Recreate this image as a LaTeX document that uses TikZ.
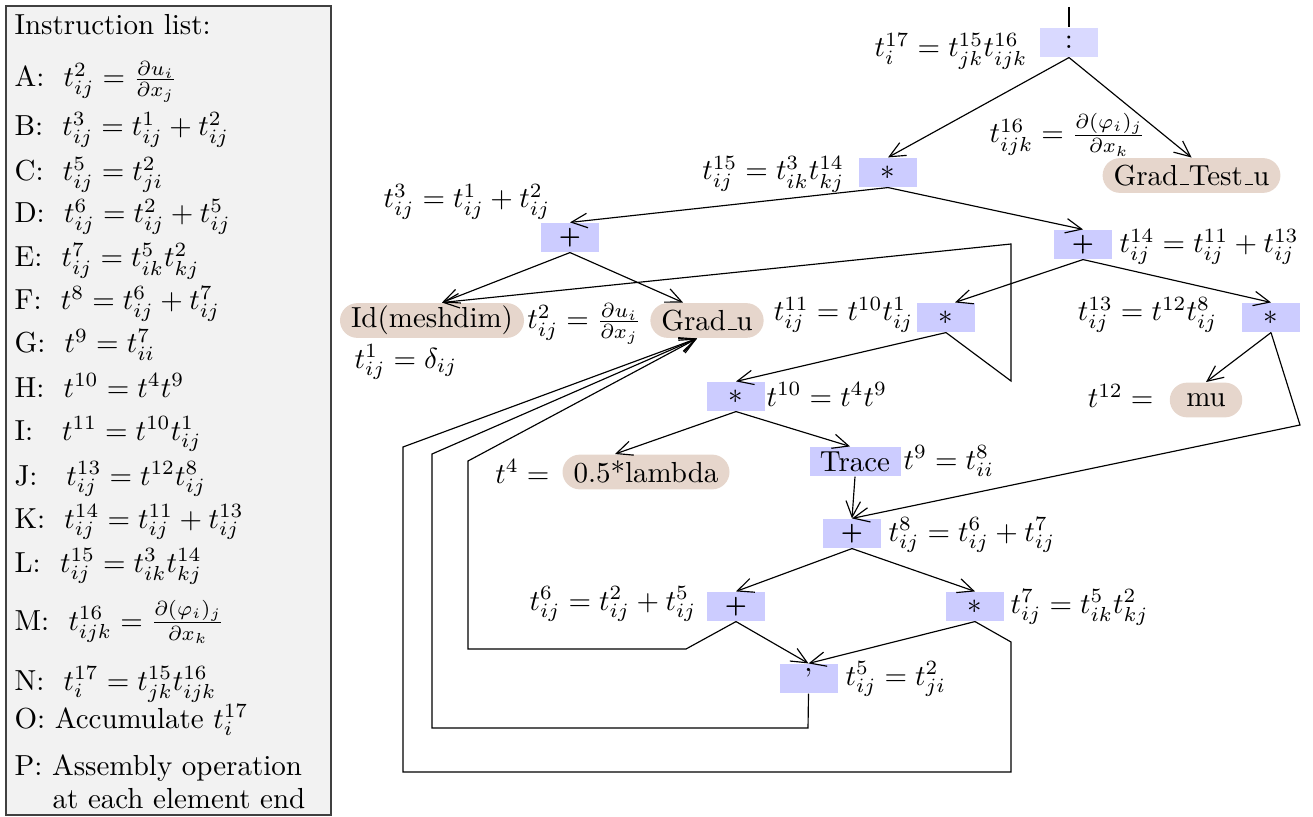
\documentclass[tikz,border=0pt]{standalone}
\usepackage{amsmath}
\usetikzlibrary{arrows.meta,calc}
\definecolor{opfill}{RGB}{204,204,255}
\definecolor{opfilltop}{RGB}{217,217,255}
\definecolor{leaffill}{RGB}{230,214,204}
\definecolor{listfill}{RGB}{242,242,242}
\newcommand{\usc}{\leavevmode\kern.06em\vbox{\hrule width.3em}}
\newcommand{\opplus}{{\footnotesize$\boldsymbol{+}$}}
\begin{document}
\begin{tikzpicture}[x=0.345pt,y=-0.345pt,
  op/.style={fill=opfill, minimum width=20pt, minimum height=10pt, inner xsep=3.6pt, inner ysep=0pt},
  leaf/.style={fill=leaffill, rounded corners=6pt, minimum height=12pt, inner xsep=3.8pt, inner ysep=0pt},
  lbl/.style={inner sep=0pt},
  edge/.style={-{Straight Barb[length=5.5pt,width=5pt,line width=0.4pt]}, line width=0.4pt},
  item/.style={anchor=base west, inner sep=0pt},
  listbox/.style={fill=listfill, draw=black!75, line width=0.5pt}
]
\useasboundingbox (0,0) rectangle (1313,817);
% instruction list
\draw[listbox] (6,6) rectangle (331,815);
\node[item] (li0) at (14,35) {Instruction list:};
\node[item] (liA) at (14,87) {A:~~$t^2_{ij} = \frac{\partial u_i}{\partial x_j}$};
\node[item] (liB) at (14,136) {B:~~$t^3_{ij} = t^1_{ij} + t^2_{ij}$};
\node[item] (liC) at (14,181) {C:~~$t^5_{ij} = t^2_{ji}$};
\node[item] (liD) at (14,223) {D:~~$t^6_{ij} = t^2_{ij} + t^5_{ij}$};
\node[item] (liE) at (14,267) {E:~~$t^7_{ij} = t^5_{ik}t^2_{kj}$};
\node[item] (liF) at (14,310) {F:~~$t^8 = t^6_{ij} + t^7_{ij}$};
\node[item] (liG) at (14,353) {G:~~$t^9 = t^7_{ii}$};
\node[item] (liH) at (14,397) {H:~~$t^{10} = t^4 t^9$};
\node[item] (liI) at (14,440) {I:~~~$t^{11} = t^{10}t^1_{ij}$};
\node[item] (liJ) at (14,485) {J:~~~$t^{13}_{ij} = t^{12}t^8_{ij}$};
\node[item] (liK) at (14,528) {K:~~$t^{14}_{ij} = t^{11}_{ij} + t^{13}_{ij}$};
\node[item] (liL) at (14,572) {L:~~$t^{15}_{ij} = t^3_{ik}t^{14}_{kj}$};
\node[item] (liM) at (14,630) {M:~~$t^{16}_{ijk} = \frac{\partial(\varphi_i)_j}{\partial x_k}$};
\node[item] (liN) at (14,690) {N:~~$t^{17}_{i} = t^{15}_{jk}t^{16}_{ijk}$};
\node[item] (liO) at (14,728) {O: Accumulate $t^{17}_i$};
\node[item] (liP) at (14,775) {P: Assembly operation};
\node[item] (liP2) at (52,808) {at each element end};
% tree nodes
\node[op, fill=opfilltop] (colon) at (1069,42.5) {$:$};
\node[op] (L15) at (888,172.5) {$*$};
\node[leaf] (GT) at (1191.5,175.5) {Grad\usc Test\usc u};
\node[op] (B3) at (570,237.5) {\opplus};
\node[op] (K14) at (1083,244.5) {\opplus};
\node[leaf] (Id) at (432,320.5) {Id(meshdim)};
\node[leaf] (Gu) at (707,320.5) {Grad\usc u};
\node[op] (I11) at (946,317.5) {$*$};
\node[op] (J13) at (1271,317.5) {$*$};
\node[leaf, minimum width=25pt] (mu) at (1206,400) {mu};
\node[op] (H10) at (736,396.5) {$*$};
\node[leaf] (lam) at (646,472) {0.5*lambda};
\node[op] (Tr) at (855,461.5) {Trace};
\node[op] (F8) at (852,533.5) {\opplus};
\node[op] (D6) at (736,606.5) {\opplus};
\node[op] (E7) at (975,606.5) {$*$};
\node[op] (C5) at (808.5,678.5) {'};
% labels
\node[lbl, anchor=base east] (lL17) at (1028,57) {$t^{17}_i = t^{15}_{jk}t^{16}_{ijk}$};
\node[lbl, anchor=base east] (lL15) at (845,180) {$t^{15}_{ij} = t^3_{ik}t^{14}_{kj}$};
\node[lbl, anchor=base west] (lL16) at (989,143) {$t^{16}_{ijk} = \frac{\partial(\varphi_i)_j}{\partial x_k}$};
\node[lbl, anchor=base west] (lB3) at (383,208) {$t^3_{ij} = t^1_{ij} + t^2_{ij}$};
\node[lbl, anchor=base west] (lK14) at (1119,253) {$t^{14}_{ij} = t^{11}_{ij} + t^{13}_{ij}$};
\node[lbl, anchor=base east] (lt2) at (642,329) {$t^2_{ij} = \frac{\partial u_i}{\partial x_j}$};
\node[lbl, anchor=base west] (lt1) at (354,368) {$t^1_{ij} = \delta_{ij}$};
\node[lbl, anchor=base east] (lI11) at (914,321) {$t^{11}_{ij} = t^{10}t^1_{ij}$};
\node[lbl, anchor=base east] (lJ13) at (1218,321) {$t^{13}_{ij} = t^{12}t^8_{ij}$};
\node[lbl, anchor=base east] (lt12) at (1154,408) {$t^{12} =$};
\node[lbl, anchor=base west] (lH10) at (766,406) {$t^{10} = t^4 t^9$};
\node[lbl, anchor=base east] (lt4) at (550,483) {$t^4 =$};
\node[lbl, anchor=base west] (lt9) at (903,469) {$t^9 = t^8_{ii}$};
\node[lbl, anchor=base west] (lF8) at (888,541) {$t^8_{ij} = t^6_{ij} + t^7_{ij}$};
\node[lbl, anchor=base east] (lD6) at (697,610) {$t^6_{ij} = t^2_{ij} + t^5_{ij}$};
\node[lbl, anchor=base west] (lE7) at (1010,613) {$t^7_{ij} = t^5_{ik}t^2_{kj}$};
\node[lbl, anchor=base west] (lC5) at (845,685) {$t^5_{ij} = t^2_{ji}$};
% arrow targets
\coordinate (top) at (1069,7);
\coordinate (idt) at ($(Id.north)+(10,0)$);
\coordinate (gut) at ($(Gu.north)+(-24,0)$);
\coordinate (gub) at ($(Gu.south)+(-10,0)$);
\coordinate (i11t) at ($(I11.north)+(9,0)$);
\coordinate (lamt) at ($(lam.north)+(-31,0)$);
\coordinate (trt) at ($(Tr.north)+(-5,0)$);
% connectors
\draw (top) -- (colon.north);
\draw[edge] (colon.south) -- (L15.north);
\draw[edge] (colon.south) -- (GT.north);
\draw[edge] (L15.south) -- (B3.north);
\draw[edge] (L15.south) -- (K14.north);
\draw[edge] (B3.south) -- (idt);
\draw[edge] (B3.south) -- (gut);
\draw[edge] (K14.south) -- (i11t);
\draw[edge] (K14.south) -- (J13.north);
\draw[edge] (I11.south) -- (H10.north);
\draw[edge] (I11.south) -- (1011,381) -- (1011,244) -- (idt);
\draw[edge] (J13.south) -- (mu.north);
\draw[edge] (J13.south) -- (1300,425) -- (F8.north);
\draw[edge] (H10.south) -- (lamt);
\draw[edge] (H10.south) -- (trt);
\draw[edge] (Tr.south) -- (F8.north);
\draw[edge] (F8.south) -- (D6.north);
\draw[edge] (F8.south) -- (E7.north);
\draw[edge] (D6.south) -- (C5.north);
\draw[edge] (E7.south) -- (C5.north);
\draw[edge] (D6.south) -- (686,649) -- (468,649) -- (468,461) -- (gub);
\draw[edge] (C5.south) -- (808,728) -- (432,728) -- (432,454) -- (gub);
\draw[edge] (E7.south) -- (1011,642) -- (1011,772) -- (403,772) -- (403,447) -- (gub);
\end{tikzpicture}
\end{document}
